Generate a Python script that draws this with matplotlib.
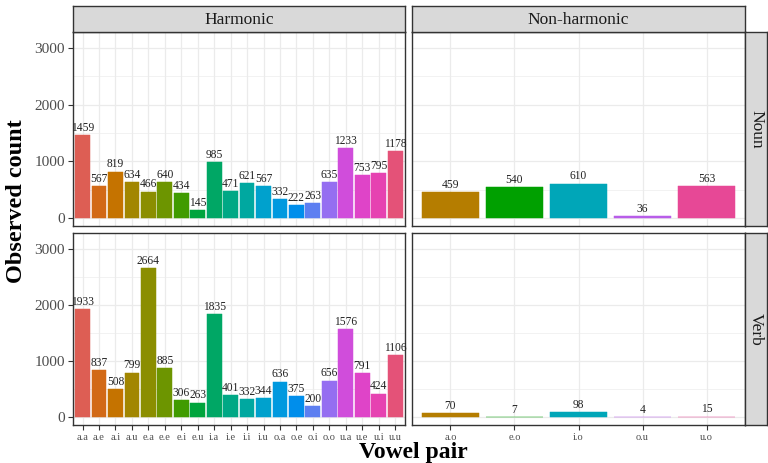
import math
import matplotlib
matplotlib.use("Agg")
import matplotlib.pyplot as plt

plt.rcParams["font.family"] = ["Liberation Serif", "DejaVu Serif"]

# vowel pairs per panel column
harm_pairs = ["a.a", "a.e", "a.i", "a.u", "e.a", "e.e", "e.i", "e.u", "i.a", "i.e",
              "i.i", "i.u", "o.a", "o.e", "o.i", "o.o", "u.a", "u.e", "u.i", "u.u"]
nonharm_pairs = ["a.o", "e.o", "i.o", "o.u", "u.o"]

# observed counts
harm_noun = [1459, 567, 819, 634, 466, 640, 434, 145, 985, 471,
             621, 567, 332, 222, 263, 635, 1233, 753, 795, 1178]
harm_verb = [1933, 837, 508, 799, 2664, 885, 306, 263, 1835, 401,
             332, 344, 636, 375, 200, 656, 1576, 791, 424, 1106]
nonharm_noun = [459, 540, 610, 36, 563]
nonharm_verb = [70, 7, 98, 4, 15]

col_names = ["Harmonic", "Non-harmonic"]
row_names = ["Noun", "Verb"]
y_ticks = [0, 1000, 2000, 3000]


def hcl_hex(h, c=100.0, l=65.0):
    # polar LUV -> sRGB, same as R's hcl()
    Xn, Yn, Zn = 95.047, 100.0, 108.883
    u = c * math.cos(math.radians(h))
    v = c * math.sin(math.radians(h))
    Y = Yn * ((l + 16) / 116) ** 3
    den = Xn + 15 * Yn + 3 * Zn
    up = u / (13 * l) + 4 * Xn / den
    vp = v / (13 * l) + 9 * Yn / den
    X = 9.0 * Y * up / (4 * vp)
    Z = -X / 3 - 5 * Y + 3 * Y / vp
    X, Y, Z = X / 100, Y / 100, Z / 100
    rgb = [3.240479 * X - 1.537150 * Y - 0.498535 * Z,
           -0.969256 * X + 1.875992 * Y + 0.041556 * Z,
           0.055648 * X - 0.204043 * Y + 1.057311 * Z]
    out = []
    for ch in rgb:
        ch = min(max(ch, 0), 1)
        ch = 1.055 * ch ** (1 / 2.4) - 0.055 if ch > 0.0031308 else 12.92 * ch
        out.append(min(max(ch, 0), 1))
    return tuple(out)


all_pairs = sorted(harm_pairs + nonharm_pairs)
n = len(all_pairs)
hues = [15 + 360 * i / n for i in range(n)]
pal = {p: hcl_hex(hues[i], c=100, l=56) for i, p in enumerate(all_pairs)}

W, H = 768, 463
fig = plt.figure(figsize=(W / 100, H / 100), dpi=100)

# panel boxes in pixels (left, right), (top, bottom)
cols_px = [(72.7, 405.0), (412.0, 745.0)]
rows_px = [(32.3, 225.7), (233.3, 425.0)]
strip_top = 6.0
strip_right = 767.0

grey20 = "#333333"
grey30 = "#4D4D4D"
grid_c = "#EBEBEB"


def px_axes(x0, x1, y0, y1):
    return fig.add_axes([x0 / W, 1 - y1 / H, (x1 - x0) / W, (y1 - y0) / H])


data = {(0, 0): harm_noun, (1, 0): harm_verb, (0, 1): nonharm_noun, (1, 1): nonharm_verb}
pairs = [harm_pairs, nonharm_pairs]

for r in range(2):
    for c in range(2):
        x0, x1 = cols_px[c]
        y0, y1 = rows_px[r]
        ax = px_axes(x0, x1, y0, y1)
        cats = pairs[c]
        vals = data[(r, c)]
        xs = list(range(len(cats)))
        cols = [pal[p] for p in cats]
        # thin same-colour edge so the 4 / 7 counts still show as a line
        ax.bar(xs, vals, width=0.9, color=cols, edgecolor=cols, linewidth=0.35, zorder=2)
        for x, v in zip(xs, vals):
            ax.text(x, v + 22, str(v), ha="center", va="bottom", fontsize=8.3,
                    color="#222222", zorder=3)
        ax.set_xlim(-0.6, len(cats) - 0.4)
        ax.set_ylim(-135, 3280)
        ax.set_xticks(xs)
        ax.set_yticks(y_ticks)
        ax.set_yticks([500, 1500, 2500], minor=True)
        ax.grid(True, which="major", color=grid_c, lw=0.9, zorder=0)
        ax.grid(True, which="minor", axis="y", color=grid_c, lw=0.45, zorder=0)
        ax.set_axisbelow(True)
        for s in ax.spines.values():
            s.set_color(grey20)
            s.set_linewidth(1.0)
        ax.tick_params(which="minor", left=False, length=0)
        ax.tick_params(which="major", color=grey20, length=3.5, width=0.8,
                       labelcolor=grey30, pad=2)
        if r == 1:
            ax.set_xticklabels(cats, fontsize=7.5)
        else:
            ax.tick_params(axis="x", bottom=False, labelbottom=False)
        if c == 0:
            ax.set_yticklabels([str(t) for t in y_ticks], fontsize=11)
        else:
            ax.tick_params(axis="y", left=False, labelleft=False)

# column strips
for c in range(2):
    x0, x1 = cols_px[c]
    sa = px_axes(x0, x1, strip_top, rows_px[0][0])
    sa.set_xticks([]); sa.set_yticks([])
    sa.set_facecolor("#D9D9D9")
    for s in sa.spines.values():
        s.set_color(grey20); s.set_linewidth(1.0)
    sa.text(0.5, 0.47, col_names[c], ha="center", va="center", fontsize=12.5,
            color="#1A1A1A", transform=sa.transAxes)

# row strips
for r in range(2):
    y0, y1 = rows_px[r]
    sa = px_axes(cols_px[1][1], strip_right, y0, y1)
    sa.set_xticks([]); sa.set_yticks([])
    sa.set_facecolor("#D9D9D9")
    for s in sa.spines.values():
        s.set_color(grey20); s.set_linewidth(1.0)
    sa.text(0.5, 0.5, row_names[r], ha="center", va="center", fontsize=12.5,
            rotation=-90, color="#1A1A1A", transform=sa.transAxes)

fig.text(17 / W, 1 - 201 / H, "Observed count", rotation=90, ha="center", va="center",
         fontsize=17.5, fontweight="bold")
fig.text(413 / W, 1 - 458 / H, "Vowel pair", ha="center", va="baseline",
         fontsize=17, fontweight="bold")

fig.savefig("out.png", dpi=100)
